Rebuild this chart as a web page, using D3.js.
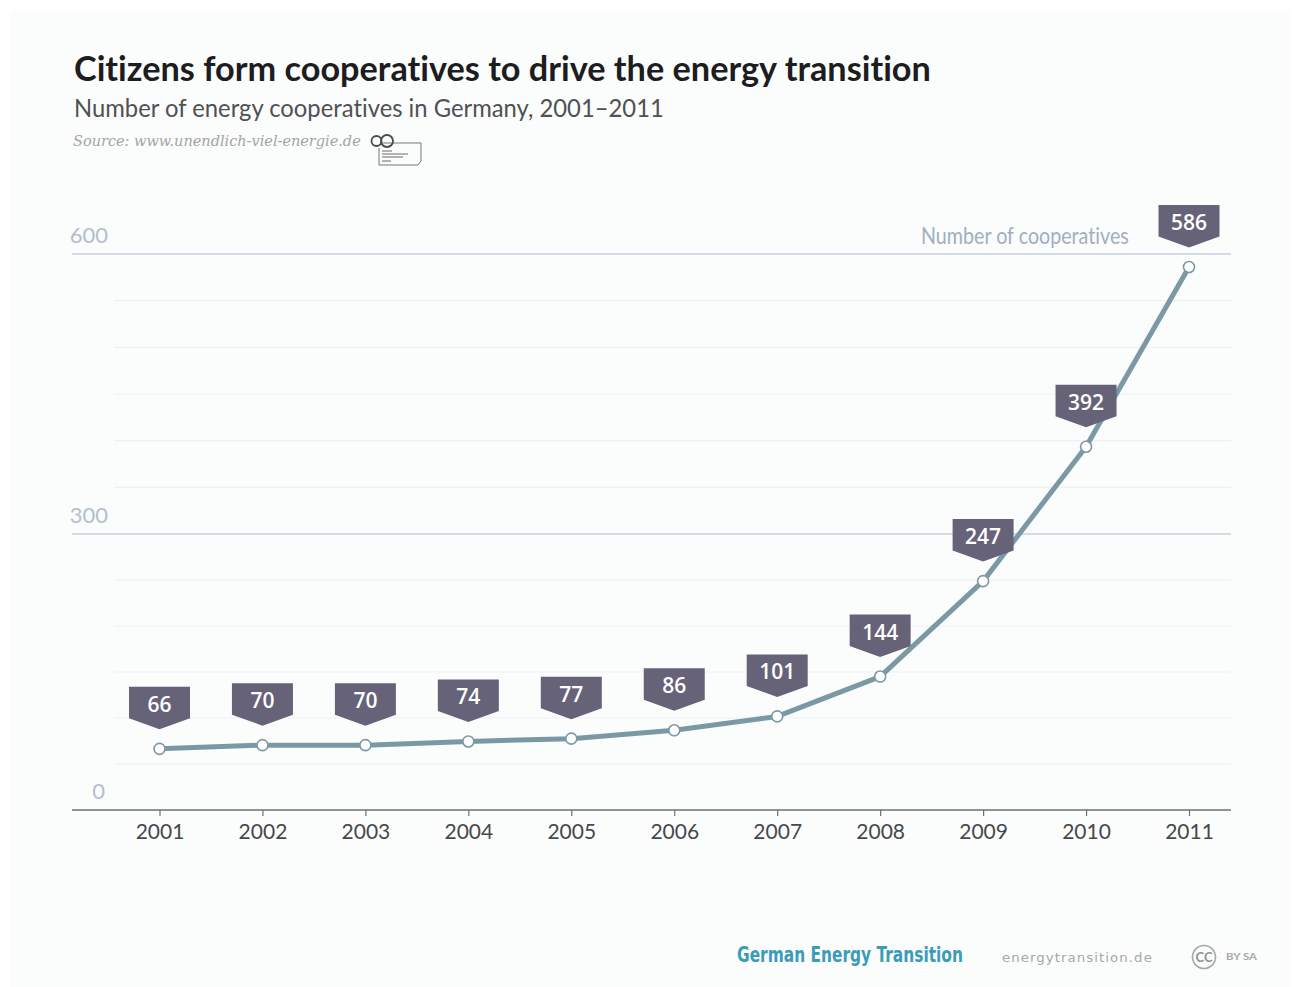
<!DOCTYPE html>
<html>
<head>
<meta charset="utf-8">
<script src="https://cdn.jsdelivr.net/npm/d3@7"></script>
<style>
html,body{margin:0;padding:0;background:#fff;}
svg{display:block;}
text{font-variant-ligatures:none;}
</style>
</head>
<body>
<svg id="chart" width="1292" height="987"></svg>
<script>
// Energy cooperatives in Germany, count per year
const years = [2001,2002,2003,2004,2005,2006,2007,2008,2009,2010,2011];
const cooperatives = [66,70,70,74,77,86,101,144,247,392,586];
const majorTicks = [0,300,600];
const minorTicks = [50,100,150,200,250,350,400,450,500,550];

const titleText = "Citizens form cooperatives to drive the energy transition";
const subtitleText = "Number of energy cooperatives in Germany, 2001–2011";
const sourceText = "Source: www.unendlich-viel-energie.de";
const seriesLabel = "Number of cooperatives";

const svg = d3.select("#chart");
const sans = "Lato, 'Open Sans', sans-serif";

const x = d3.scalePoint().domain(years).range([159.5,1189]);
const y = d3.scaleLinear().domain([0,600]).range([810,254]);
// The rules sit on a slightly different spacing above and below the 300 line
const ruleY = d3.scaleLinear().domain([0,300,600]).range([810,534,254]);

// Pale page panel
svg.append("rect").attr("x",10).attr("y",12).attr("width",1280).attr("height",975).attr("fill","#fbfcfc");

// Places a text at (px, py) and squeezes it horizontally to the given width
function placed(px, py, width, family, size, fill, text, opts = {}){
  const t = svg.append("text").attr("font-family",family).attr("font-size",size).attr("fill",fill)
    .attr("font-weight",opts.weight || 400).attr("font-style",opts.style || "normal")
    .attr("letter-spacing",opts.spacing || 0).text(text);
  const natural = t.node().getComputedTextLength();
  t.attr("transform",`translate(${px},${py}) scale(${width/natural},1)`);
  return t;
}

// Heading block
placed(74,81,857,sans,34,"#1d1d1f",titleText,{weight:700});
placed(74,117,590,sans,25,"#505153",subtitleText);
placed(73,146,288,"'DejaVu Serif', serif",14,"#a3a5a7",sourceText,{style:"italic"});

// Publisher mark beside the source line
const mark = svg.append("g").attr("fill","none").attr("stroke","#4a4a4a");
mark.append("path").attr("d","M380 143H421V161L418 165H379V148").attr("stroke-width",1).attr("stroke","#777");
mark.append("circle").attr("cx",376.5).attr("cy",141).attr("r",5).attr("stroke-width",1.8);
mark.append("circle").attr("cx",387).attr("cy",141).attr("r",6).attr("stroke-width",1.8);
[151,154,157,161].forEach((ly,i)=>mark.append("line").attr("x1",382).attr("x2",[392,408,403,391][i])
  .attr("y1",ly).attr("y2",ly).attr("stroke","#8a8a8a").attr("stroke-width",1.3));

// Horizontal rules
svg.append("g").selectAll("line").data(minorTicks).join("line")
  .attr("x1",114).attr("x2",1231).attr("y1",d=>ruleY(d)).attr("y2",d=>ruleY(d))
  .attr("stroke","#eef1f3").attr("stroke-width",1.2);
svg.append("g").selectAll("line").data(majorTicks.slice(1)).join("line")
  .attr("x1",72).attr("x2",1231).attr("y1",d=>ruleY(d)).attr("y2",d=>ruleY(d))
  .attr("stroke","#c7d0de").attr("stroke-width",1.4);

// Value axis labels
svg.append("g").selectAll("text").data(majorTicks).join("text")
  .attr("x",d=>d===0?105:108).attr("y",d=>ruleY(d)-11).attr("text-anchor","end")
  .attr("font-family",sans).attr("font-size",22).attr("fill","#b2bfcd").text(d=>d);

placed(921,244,208,sans,23,"#a0afc0",seriesLabel);

// Year axis
const xAxis = d3.axisBottom(x).tickSize(6).tickPadding(8).tickFormat(d3.format("d"));
const axisG = svg.append("g").attr("transform",`translate(0,${y(0)})`).call(xAxis);
axisG.select(".domain").remove();
axisG.append("line").attr("x1",72).attr("x2",1231).attr("stroke","#6d6f72").attr("stroke-width",1.6);
axisG.selectAll(".tick line").attr("stroke","#6d6f72").attr("stroke-width",1.2);
axisG.selectAll(".tick text").attr("font-family",sans).attr("font-size",21).attr("fill","#47484a");

// Series line
const line = d3.line().x((d,i)=>x(years[i])).y(d=>y(d));
svg.append("path").datum(cooperatives).attr("d",line).attr("fill","none")
  .attr("stroke","#7b99a5").attr("stroke-width",5).attr("stroke-linejoin","round");

// Point markers
svg.append("g").selectAll("circle").data(cooperatives).join("circle")
  .attr("cx",(d,i)=>x(years[i])).attr("cy",d=>y(d)).attr("r",5.5)
  .attr("fill","#fff").attr("stroke","#7b99a5").attr("stroke-width",1.6);

// Pennant value labels above each point
const tags = svg.append("g").selectAll("g").data(cooperatives).join("g")
  .attr("transform",(d,i)=>`translate(${x(years[i])},${y(d)})`);
tags.append("path").attr("d","M-30.5 -62H30.5V-30.5L0 -19.5L-30.5 -30.5Z").attr("fill","#666379");
tags.append("text").attr("y",-37).attr("text-anchor","middle").attr("font-family","'Open Sans', sans-serif")
  .attr("font-weight",600).attr("font-size",21).attr("fill","#fff").text(d=>d);

// Footer
placed(737,962,226,"'DejaVu Sans', sans-serif",22,"#3a9cb8","German Energy Transition",{weight:700});
placed(1002,962,151,"'DejaVu Sans', sans-serif",13,"#a6a8aa","energytransition.de",{spacing:1});
svg.append("circle").attr("cx",1204).attr("cy",957).attr("r",11.5).attr("fill","none").attr("stroke","#a6a8aa").attr("stroke-width",1.6);
svg.append("text").attr("x",1204).attr("y",961.5).attr("text-anchor","middle").attr("font-family",sans).attr("font-weight",700)
  .attr("font-size",13).attr("fill","#8e9092").text("CC");
placed(1226,960,31,sans,9,"#a6a8aa","BY SA",{weight:700});
</script>
</body>
</html>
